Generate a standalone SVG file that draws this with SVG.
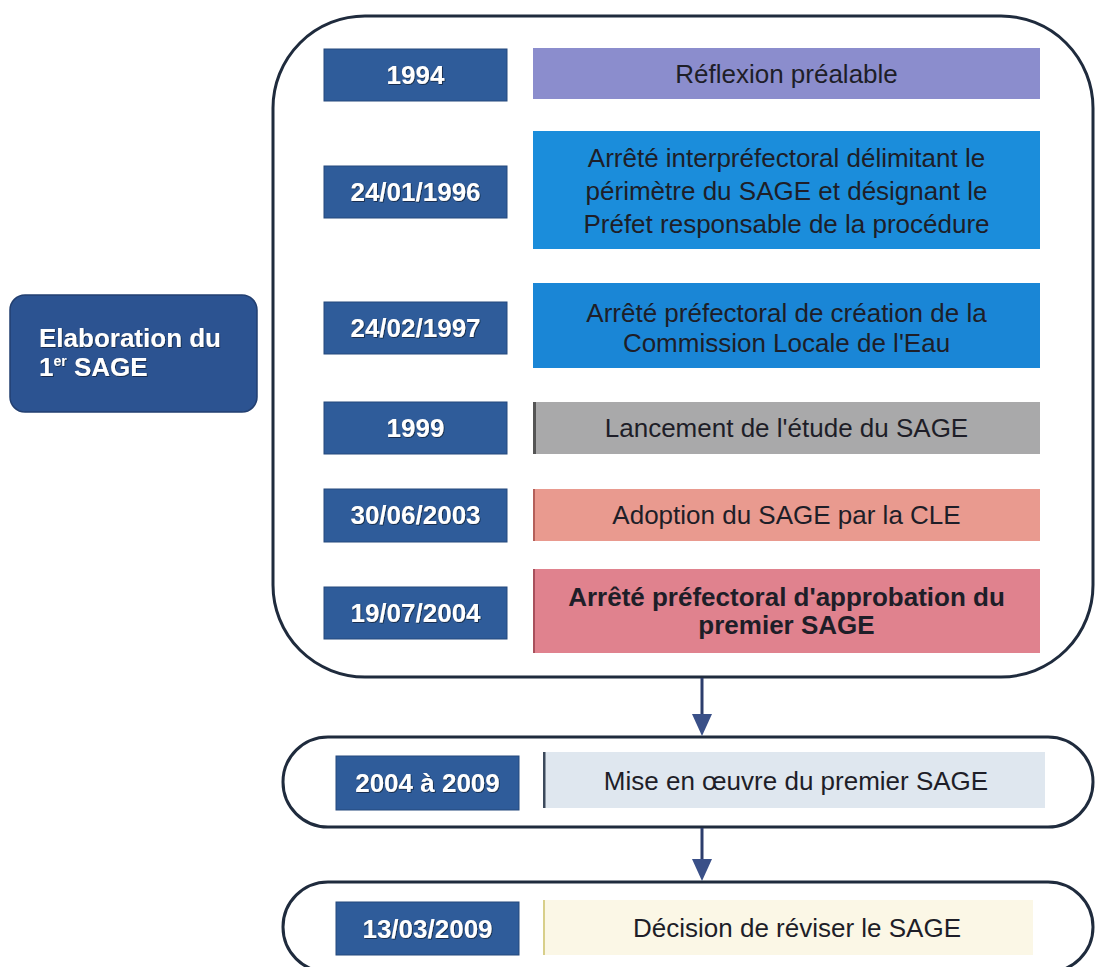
<svg xmlns="http://www.w3.org/2000/svg" width="1096" height="967" viewBox="0 0 1096 967">
<defs>
<style>
.frame{fill:none;stroke:#1f2b3d;stroke-width:3}
.date{fill:#2f5c9a;stroke:#24487c;stroke-width:1}
.dt{font-family:"Liberation Sans",Arial,sans-serif;font-size:26px;font-weight:bold;fill:#ffffff;text-anchor:middle;filter:url(#sh)}
.tx{font-family:"Liberation Sans",Arial,sans-serif;font-size:26px;fill:#1e1e28;text-anchor:middle}
.txb{font-family:"Liberation Sans",Arial,sans-serif;font-size:26px;font-weight:bold;fill:#1e1e28;text-anchor:middle}
.conn{stroke:#2c3d6c;stroke-width:3;fill:none}
.head{fill:#3a5088}
</style>
<filter id="sh" x="-10%" y="-30%" width="120%" height="160%">
<feDropShadow dx="0.8" dy="0.8" stdDeviation="0.7" flood-color="#0d1a33" flood-opacity="0.9"/>
</filter>
</defs>
<rect width="1096" height="967" fill="#ffffff"/>

<g id="frame-elaboration">
<rect class="frame" x="273" y="16" width="820" height="661" rx="92" ry="92"/>
</g>

<g id="node-elaboration">
<rect x="10" y="295" width="247" height="117" rx="15" ry="15" fill="#2c5391" stroke="#223f70" stroke-width="1.5"/>
<text font-family="'Liberation Sans',Arial,sans-serif" font-size="26" font-weight="bold" fill="#ffffff" filter="url(#sh)"><tspan x="39" y="347">Elaboration du</tspan><tspan x="39" y="376">1</tspan><tspan font-size="14" dy="-10">er</tspan><tspan dy="10"> SAGE</tspan></text>
</g>

<g id="row-1994">
<rect class="date" x="324" y="49" width="183" height="52"/>
<text class="dt" x="415.5" y="84">1994</text>
<rect x="533" y="48" width="507" height="51" fill="#8b8dcd"/>
<text class="tx" x="786.5" y="83">Réflexion préalable</text>
</g>

<g id="row-1996">
<rect class="date" x="324" y="166" width="183" height="52"/>
<text class="dt" x="415.5" y="201">24/01/1996</text>
<rect x="533" y="131" width="507" height="118" fill="#1b8ddb"/>
<text class="tx" x="786.5" y="167">Arrêté interpréfectoral délimitant le</text>
<text class="tx" x="786.5" y="200">périmètre du SAGE et désignant le</text>
<text class="tx" x="786.5" y="233">Préfet responsable de la procédure</text>
</g>

<g id="row-1997">
<rect class="date" x="324" y="302" width="183" height="52"/>
<text class="dt" x="415.5" y="337">24/02/1997</text>
<rect x="533" y="283" width="507" height="85" fill="#1a86d6"/>
<text class="tx" x="786.5" y="322">Arrêté préfectoral de création de la</text>
<text class="tx" x="786.5" y="352">Commission Locale de l'Eau</text>
</g>

<g id="row-1999">
<rect class="date" x="324" y="402" width="183" height="52"/>
<text class="dt" x="415.5" y="437">1999</text>
<rect x="533" y="402" width="507" height="52" fill="#a9a9aa"/>
<rect x="533" y="402" width="3" height="52" fill="#555"/>
<text class="tx" x="786.5" y="437">Lancement de l'étude du SAGE</text>
</g>

<g id="row-2003">
<rect class="date" x="324" y="489" width="183" height="53"/>
<text class="dt" x="415.5" y="524">30/06/2003</text>
<rect x="533" y="489" width="507" height="52" fill="#e99a8f"/>
<rect x="533" y="489" width="2" height="52" fill="#b4605a"/>
<text class="tx" x="786.5" y="524">Adoption du SAGE par la CLE</text>
</g>

<g id="row-2004">
<rect class="date" x="324" y="587" width="183" height="52"/>
<text class="dt" x="415.5" y="622">19/07/2004</text>
<rect x="533" y="569" width="507" height="84" fill="#e0828e"/>
<rect x="533" y="569" width="2" height="84" fill="#a8505c"/>
<text class="txb" x="786.5" y="606">Arrêté préfectoral d'approbation du</text>
<text class="txb" x="786.5" y="634">premier SAGE</text>
</g>

<g id="node-mise-en-oeuvre">
<rect class="frame" x="283" y="737" width="810" height="90" rx="45" ry="45"/>
<rect class="date" x="336" y="756" width="183" height="54"/>
<text class="dt" x="427.5" y="792">2004 à 2009</text>
<rect x="543" y="752" width="502" height="56" fill="#dfe7ef"/>
<rect x="543" y="752" width="2.5" height="56" fill="#3c4a5c"/>
<text class="tx" x="796" y="790">Mise en œuvre du premier SAGE</text>
</g>

<g id="node-revision">
<rect class="frame" x="283" y="882" width="810" height="90" rx="45" ry="45"/>
<rect class="date" x="336" y="902" width="183" height="53"/>
<text class="dt" x="427.5" y="938">13/03/2009</text>
<rect x="543" y="900" width="490" height="55" fill="#fbf7e6"/>
<rect x="543" y="900" width="2" height="55" fill="#d8cf8a"/>
<text class="tx" x="797" y="937">Décision de réviser le SAGE</text>
</g>

<g id="connectors">
<line class="conn" x1="702" y1="678" x2="702" y2="718"/>
<polygon class="head" points="692,714 712,714 702,736"/>
<line class="conn" x1="702" y1="828" x2="702" y2="863"/>
<polygon class="head" points="692,859 712,859 702,881"/>
</g>
</svg>
